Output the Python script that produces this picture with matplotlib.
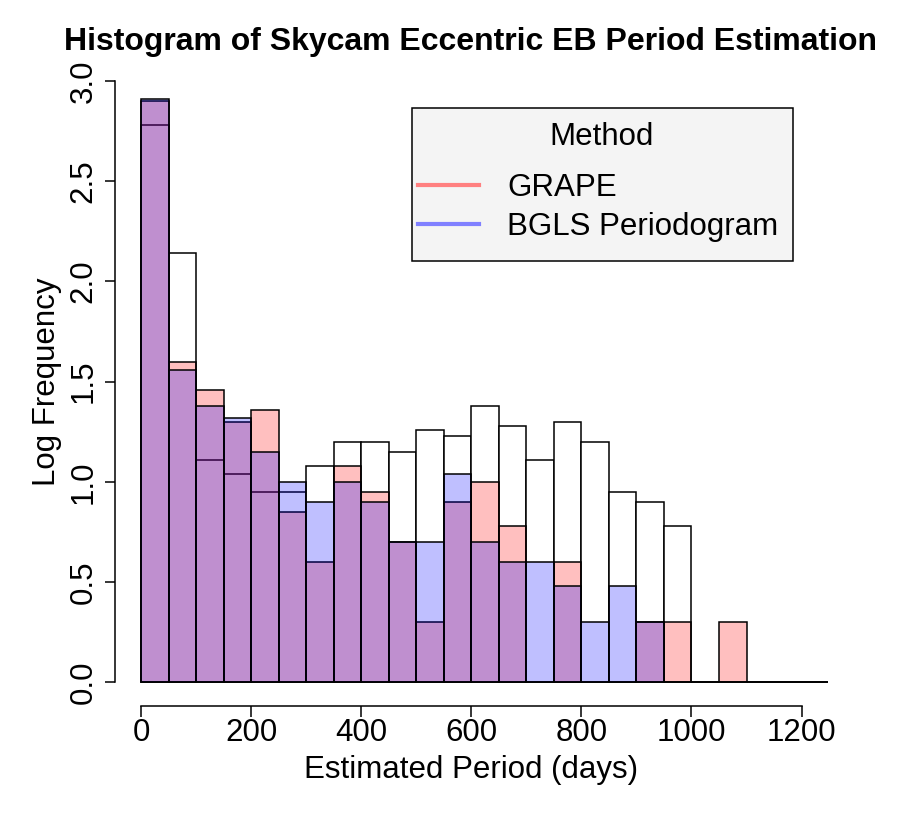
import numpy as np
import matplotlib
matplotlib.use('Agg')
import matplotlib.pyplot as plt
from matplotlib.patches import Rectangle
from matplotlib.lines import Line2D

plt.rcParams['font.family'] = ['Liberation Sans', 'DejaVu Sans']

# bin edges of 50 days, 0 - 1250
bin_left = np.arange(0, 1250, 50)
bin_width = 50

# log10 counts
all_log = [2.78, 2.14, 1.11, 1.04, 0.95, 0.95, 1.08, 1.20, 1.20, 1.15, 1.26, 1.23, 1.38,
           1.28, 1.11, 1.30, 1.20, 0.95, 0.90, 0.78, 0, 0, 0, 0, 0]
grape_log = [2.90, 1.60, 1.46, 1.30, 1.36, 0.85, 0.60, 1.08, 0.95, 0.70, 0.30, 0.90, 1.00,
             0.78, 0, 0.60, 0, 0, 0.30, 0.30, 0, 0.30, 0, 0, 0]
bgls_log = [2.91, 1.56, 1.38, 1.32, 1.15, 1.00, 0.90, 1.00, 0.90, 0.70, 0.70, 1.04, 0.70,
            0.60, 0.60, 0.48, 0.30, 0.48, 0.30, 0, 0, 0, 0, 0, 0]
methods = ['GRAPE', 'BGLS Periodogram']
method_colors = ['#FF8080', '#8080FF']

W, H = 906, 821
fs = 22.5
fig = plt.figure(figsize=(W / 100, H / 100), dpi=100)
left, right, top, bottom = 114.6, 828, 57, 706.4
ax = fig.add_axes([left / W, 1 - bottom / H, (right - left) / W, (bottom - top) / H])

ax.bar(bin_left, all_log, width=bin_width, align='edge', facecolor='white',
       edgecolor='black', linewidth=1.1)
ax.bar(bin_left, grape_log, width=bin_width, align='edge', facecolor=(1, 0, 0, 0.25),
       edgecolor='black', linewidth=1.1)
ax.bar(bin_left, bgls_log, width=bin_width, align='edge', facecolor=(0, 0, 1, 0.25),
       edgecolor='black', linewidth=1.1)

ax.set_xlim(-48, 1248)
ax.set_ylim(-0.12, 3.12)

for s in ['top', 'right']:
    ax.spines[s].set_visible(False)
ax.spines['left'].set_bounds(0, 3)
ax.spines['bottom'].set_bounds(0, 1200)
ax.spines['left'].set_linewidth(1.1)
ax.spines['bottom'].set_linewidth(1.1)

ax.set_xticks(np.arange(0, 1201, 200))
ax.set_yticks(np.arange(0, 3.01, 0.5))
ax.set_yticklabels([f'{v:.1f}' for v in np.arange(0, 3.01, 0.5)], rotation=90, va='center')
ax.tick_params(axis='both', direction='out', width=1.1, labelsize=fs)
ax.tick_params(axis='x', length=8, pad=0.5)
ax.tick_params(axis='y', length=7.5, pad=4)

ax.set_xlabel('Estimated Period (days)', fontsize=fs, labelpad=5)
ax.set_ylabel('Log Frequency', fontsize=fs, labelpad=5)
fig.text(470 / W, 1 - 42 / H, 'Histogram of Skycam Eccentric EB Period Estimation',
         fontsize=23, fontweight='bold', ha='center', va='center')

# legend box drawn in figure pixels
fig.patches.append(Rectangle((411.7, H - 261), 381.6, 152.7, transform=None,
                             facecolor='#F4F4F4', edgecolor='black', linewidth=1.1))
fig.text(602 / W, 1 - 137 / H, 'Method', fontsize=fs, ha='center', va='center')
for i, (name, col) in enumerate(zip(methods, method_colors)):
    yy = 1 - (185 + 39 * i) / H
    fig.add_artist(Line2D([418 / W, 479 / W], [yy, yy], color=col, lw=3,
                          transform=fig.transFigure))
    fig.text(507 / W, yy - 2.5 / H, name, fontsize=fs, ha='left', va='center')

plt.savefig('out.png', dpi=100)
